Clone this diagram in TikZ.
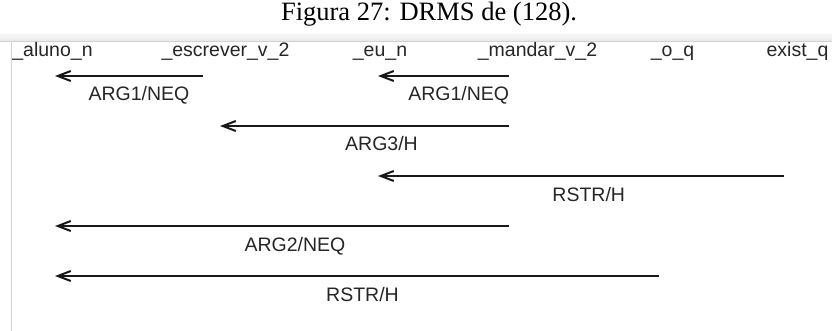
\documentclass[tikz,border=0pt]{standalone}
\usepackage{fontspec}
\newfontfamily\labelfont{Liberation Sans}
\newfontfamily\captionfont{Liberation Serif}
\usetikzlibrary{arrows.meta,calc}

\begin{document}
\begin{tikzpicture}[x=1pt,y=1pt,
  pred/.style={font=\labelfont\fontsize{19.5}{22}\selectfont, text=black!85, inner sep=0pt, anchor=base},
  rel/.style={font=\labelfont\fontsize{19.5}{22}\selectfont, text=black!85, inner sep=0pt, anchor=base},
  dep/.style={line width=2pt, draw=black!90,
    arrows={-Straight Barb[length=13pt,width=10pt,line width=2pt]}},
  caption/.style={font=\captionfont\fontsize{26.5}{30}\selectfont, inner sep=0pt, anchor=base}]

  \useasboundingbox (0,0) rectangle (832,-331);
  \fill[white] (0,0) rectangle (832,-331);

  % caption
  \node[caption] (cap) at (429,-21) {Figura 27: DRMS de (128).};

  % window header band and left border
  \shade[top color=black!3, bottom color=black!9] (0,-34) rectangle (832,-41);
  \draw[black!18, line width=0.8pt] (0,-41) -- (832,-41);
  \draw[black!16, line width=1pt] (11,-41) -- (11,-331);

  % predicates
  \node[pred] (aluno)    at (52.5,-57)  {\_aluno\_n};
  \node[pred] (escrever) at (225.5,-57) {\_escrever\_v\_2};
  \node[pred] (eu)       at (380,-57)   {\_eu\_n};
  \node[pred] (mandar)   at (537.5,-57) {\_mandar\_v\_2};
  \node[pred] (oq)       at (672.5,-57) {\_o\_q};
  \node[pred] (exist)    at (797.5,-57) {exist\_q};

  % dependency arrows: tail near the source, tip under the target
  \draw[dep] ([xshift=-22.5pt]escrever.base |- 0,-76) -- ([xshift=2.5pt]aluno.base |- 0,-76);
  \draw[dep] ([xshift=-28.5pt]mandar.base |- 0,-76)   -- ([xshift=-2pt]eu.base |- 0,-76);
  \draw[dep] ([xshift=-28.5pt]mandar.base |- 0,-126)  -- ([xshift=-5.5pt]escrever.base |- 0,-126);
  \draw[dep] ([xshift=-13.5pt]exist.base |- 0,-176)   -- ([xshift=-2pt]eu.base |- 0,-176);
  \draw[dep] ([xshift=-28.5pt]mandar.base |- 0,-226)  -- ([xshift=2.5pt]aluno.base |- 0,-226);
  \draw[dep] ([xshift=-13.5pt]oq.base |- 0,-276)      -- ([xshift=2.5pt]aluno.base |- 0,-276);

  % relation labels, centred between the two predicates
  \coordinate (m1) at ($(aluno.base)!.5!(escrever.base)$);
  \coordinate (m2) at ($(eu.base)!.5!(mandar.base)$);
  \coordinate (m3) at ($(escrever.base)!.5!(mandar.base)$);
  \coordinate (m4) at ($(eu.base)!.5!(exist.base)$);
  \coordinate (m5) at ($(aluno.base)!.5!(mandar.base)$);
  \coordinate (m6) at ($(aluno.base)!.5!(oq.base)$);
  \node[rel] (l1) at (m1 |- 0,-101) {ARG1/NEQ};
  \node[rel] (l2) at (m2 |- 0,-101) {ARG1/NEQ};
  \node[rel] (l3) at (m3 |- 0,-151) {ARG3/H};
  \node[rel] (l4) at (m4 |- 0,-201) {RSTR/H};
  \node[rel] (l5) at (m5 |- 0,-251) {ARG2/NEQ};
  \node[rel] (l6) at (m6 |- 0,-301) {RSTR/H};
\end{tikzpicture}
\end{document}
